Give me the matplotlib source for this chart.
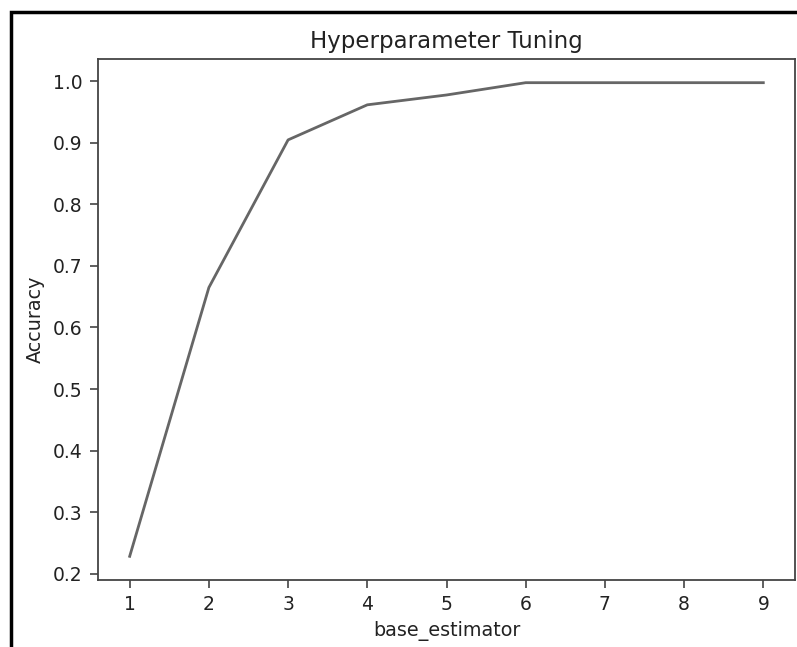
import matplotlib.pyplot as plt
import matplotlib.patches as patches

# 参数取值与对应准确率
base_estimator = [1, 2, 3, 4, 5, 6, 7, 8, 9]
accuracy = [0.228, 0.665, 0.905, 0.962, 0.978, 0.998, 0.998, 0.998, 0.998]

fig = plt.figure(figsize=(7.97, 6.47), dpi=100)
ax = fig.add_axes([98 / 797, 67 / 647, 697 / 797, 521 / 647])

ax.plot(base_estimator, accuracy, color='#666666', linewidth=2.0)

ax.set_title('Hyperparameter Tuning', fontsize=16.5, color='#222222', pad=8)
ax.set_xlabel('base_estimator', fontsize=13.8, color='#222222', labelpad=5)
ax.set_ylabel('Accuracy', fontsize=13.8, color='#222222', labelpad=6)

ax.set_xticks(base_estimator)
ax.set_yticks([0.2, 0.3, 0.4, 0.5, 0.6, 0.7, 0.8, 0.9, 1.0])
ax.tick_params(labelsize=13.5, labelcolor='#222222', color='#444444', length=6, width=1.2, pad=5)
for s in ax.spines.values():
    s.set_color('#444444')
    s.set_linewidth(1.3)

# 外框
frame = patches.Rectangle((11 / 797, -0.1), 1.1, 1.1 - 12 / 647,
                          transform=fig.transFigure, fill=False,
                          edgecolor='black', linewidth=2.5, clip_on=False)
fig.patches.append(frame)

fig.savefig('out.png', dpi=100)
